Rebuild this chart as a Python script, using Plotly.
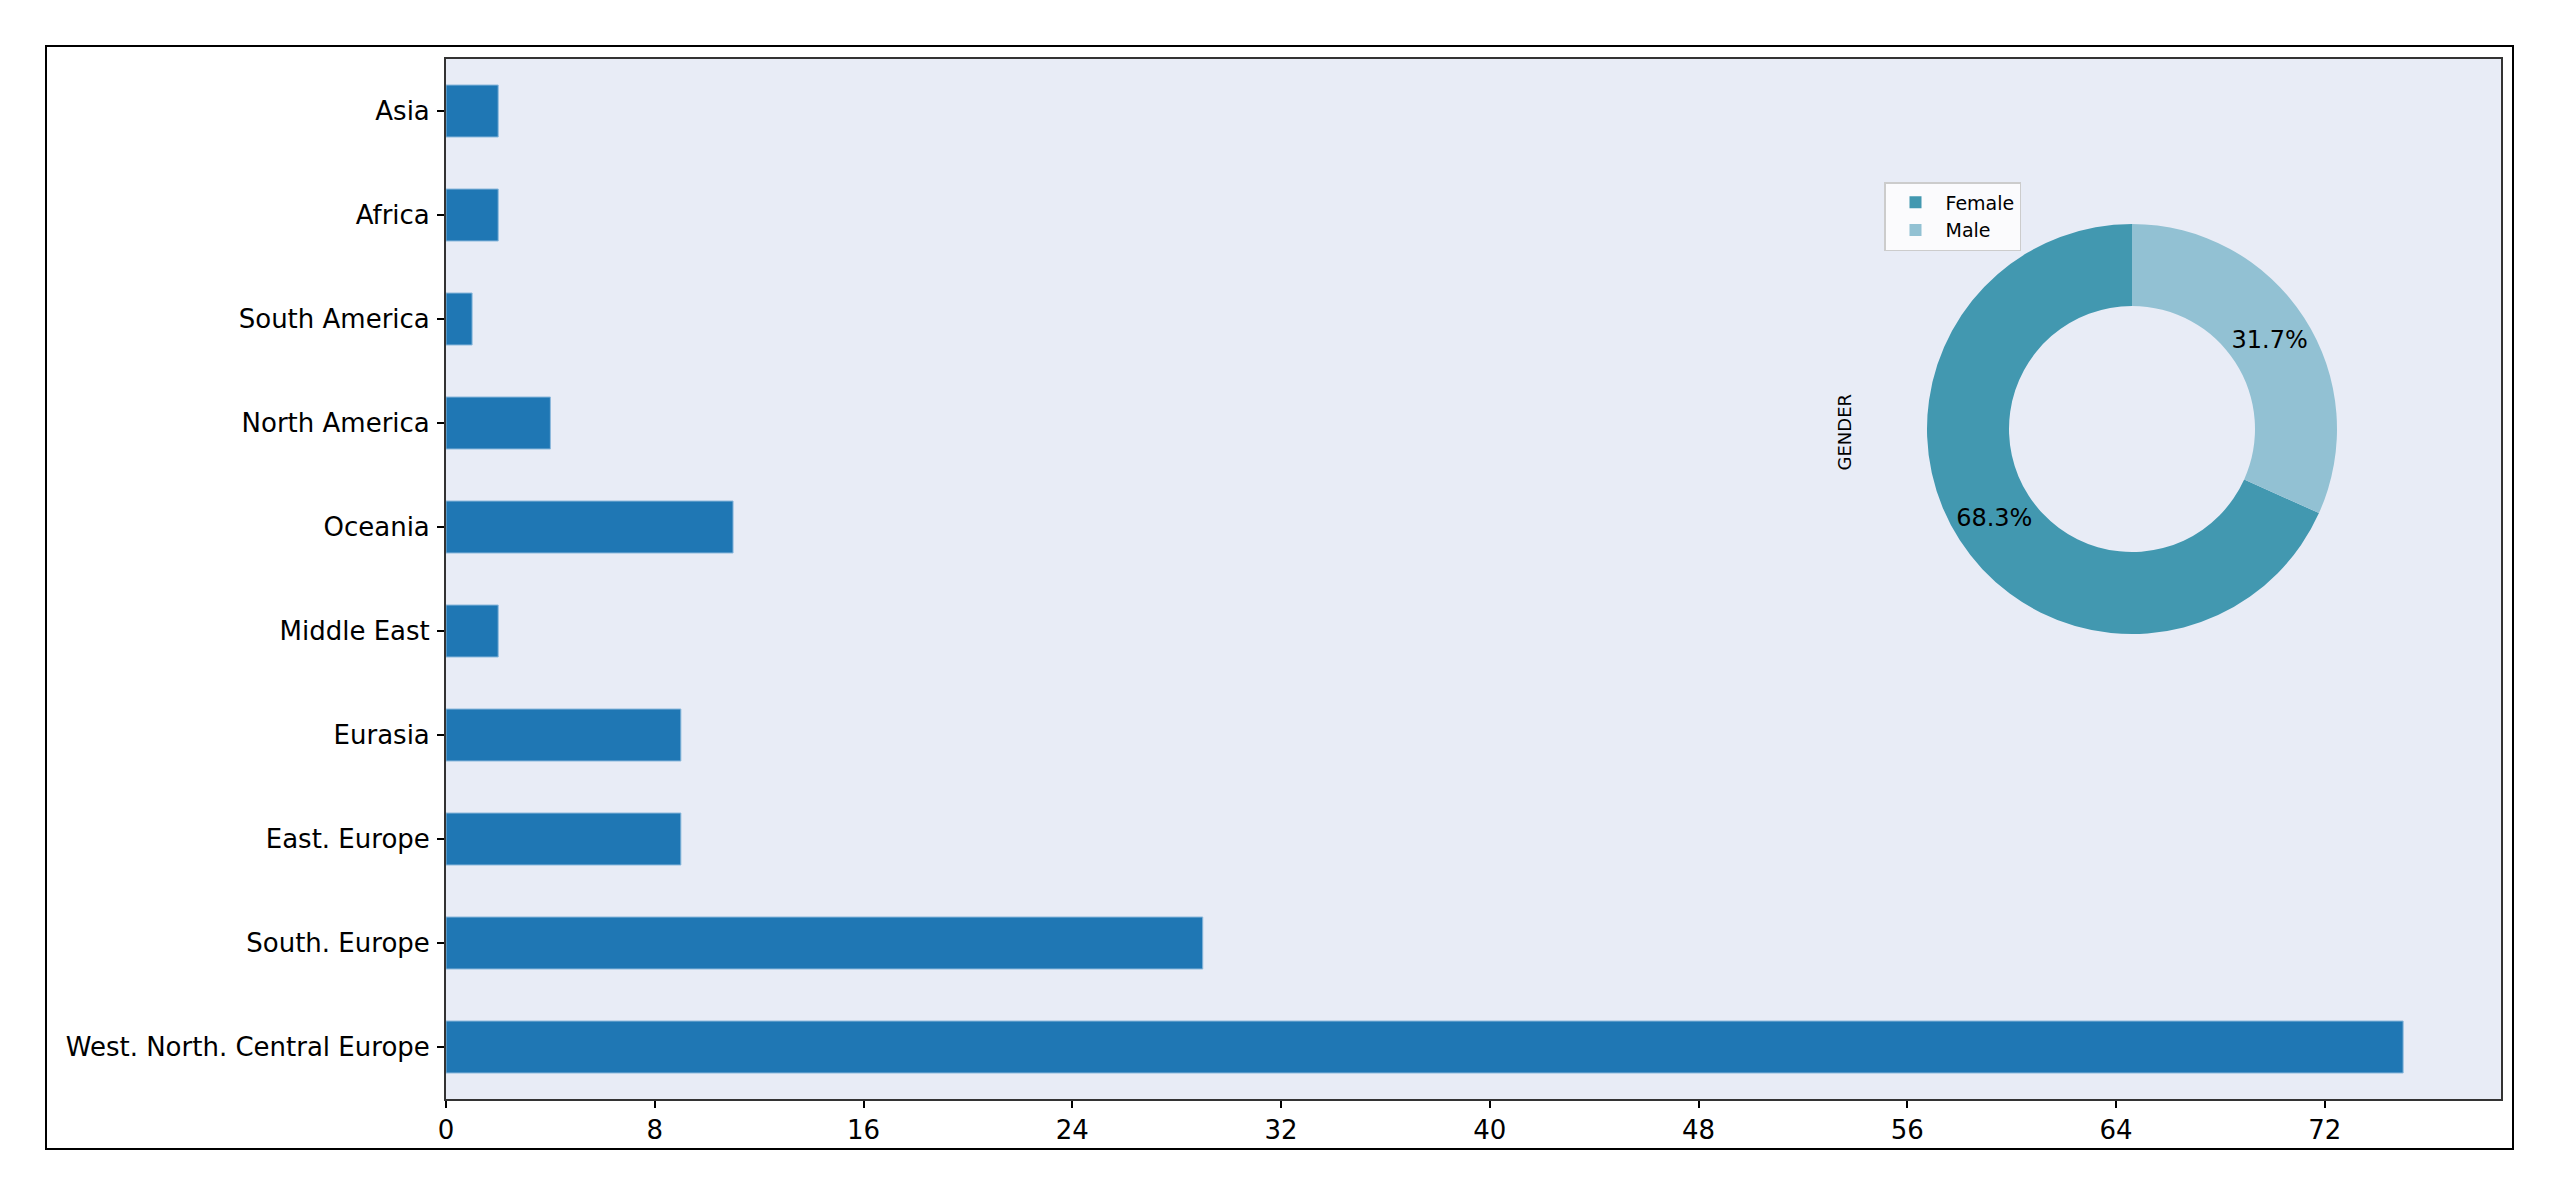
import plotly.graph_objects as go

# Data
regions = ["West. North. Central Europe", "South. Europe", "East. Europe", "Eurasia",
           "Middle East", "Oceania", "North America", "South America", "Africa", "Asia"]
counts = [75, 29, 9, 9, 2, 11, 4, 1, 2, 2]

genders = ["Female", "Male"]
gender_counts = [99, 46]
gender_colors = ["#4298b0", "#92c1d3"]

x_ticks = [0, 8, 16, 24, 32, 40, 48, 56, 64, 72]

FONT = "DejaVu Sans"
OFF = 8  # browser body margin
W, H = 2560 - OFF, 1197 - OFF
L, R, T, B = 446 - OFF, 59, 59 - OFF, 98
pw, ph = W - L - R, H - T - B


def px_x(x):
    return (x - OFF - L) / pw


def px_y(y):
    return (H - B - (y - OFF)) / ph


# first (Female) slice starts at 12 o'clock and runs counterclockwise
pie_rotation = 360 * gender_counts[1] / sum(gender_counts)

fig = go.Figure()

fig.add_trace(go.Bar(
    x=counts, y=regions, orientation="h", width=0.5,
    marker=dict(color="#1f77b4", line=dict(color="rgba(140,185,220,1)", width=1)),
    showlegend=False, xaxis="x", yaxis="y",
))

fig.add_trace(go.Pie(
    labels=genders, values=gender_counts, hole=0.6, sort=False,
    direction="counterclockwise", rotation=pie_rotation,
    marker=dict(colors=gender_colors),
    textinfo="percent", texttemplate="%{percent:.1%}",
    textposition="inside", insidetextorientation="horizontal",
    insidetextfont=dict(family=FONT, size=24, color="black"),
    domain=dict(x=[px_x(1927), px_x(2337)], y=[px_y(634), px_y(224)]),
    showlegend=True,
))

fig.update_layout(
    width=W, height=H,
    margin=dict(l=L, r=R, t=T, b=B, pad=0),
    paper_bgcolor="white", plot_bgcolor="#E8ECF6",
    font=dict(family=FONT, size=26, color="black"),
    xaxis=dict(range=[0, 78.75], tickmode="array", tickvals=x_ticks,
               ticks="outside", ticklen=7, tickwidth=1.5, tickcolor="black",
               showgrid=False, zeroline=False, showline=True, mirror=True,
               linecolor="#333", linewidth=2, tickfont=dict(size=26), automargin=False),
    yaxis=dict(categoryorder="array", categoryarray=regions, range=[-0.5, 9.5],
               ticks="outside", ticklen=7, tickwidth=1.5, tickcolor="black",
               showgrid=False, zeroline=False, showline=True, mirror=True,
               linecolor="#333", linewidth=2, tickfont=dict(size=26),
               ticklabelstandoff=2, automargin=False),
    legend=dict(x=px_x(1884), y=px_y(182), xanchor="left", yanchor="top",
                bgcolor="rgba(255,255,255,0.8)", bordercolor="#cccccc", borderwidth=1.5,
                font=dict(family=FONT, size=19), itemwidth=50, tracegroupgap=0),
    annotations=[dict(text="GENDER", textangle=-90, x=px_x(1857), y=px_y(432),
                      xref="paper", yref="paper", showarrow=False,
                      font=dict(family=FONT, size=18, color="black"))],
    shapes=[dict(type="rect", xref="paper", yref="paper",
                 x0=px_x(46), x1=px_x(2513), y0=px_y(1149), y1=px_y(46),
                 line=dict(color="black", width=2), fillcolor="rgba(0,0,0,0)", layer="below")],
)

fig.write_html("out.html")
